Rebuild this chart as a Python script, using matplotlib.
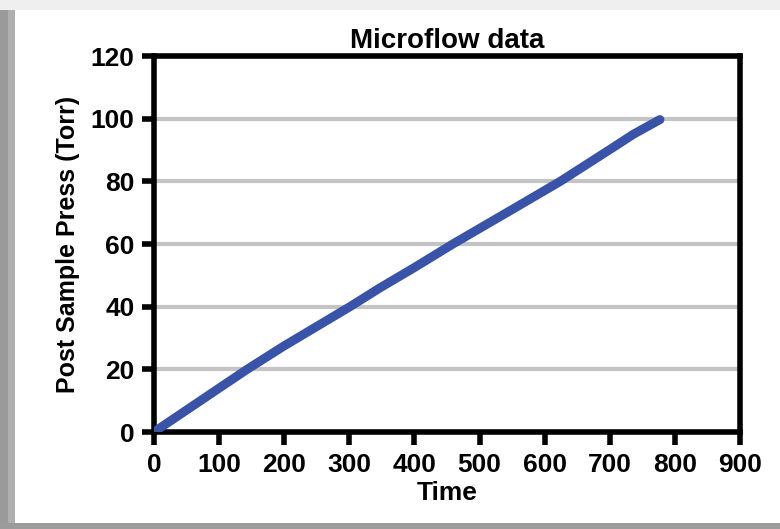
import numpy as np
import matplotlib
matplotlib.use("Agg")
import matplotlib.pyplot as plt
from matplotlib.patches import Rectangle

# values
time = [0, 20, 50, 100, 143, 200, 301, 347, 400, 459, 550, 624, 705, 736, 777]
press = [0, 2.8, 7, 14, 20, 27.5, 40, 46, 52.5, 60, 71, 80, 90.8, 95, 99.7]
xticks = [0, 100, 200, 300, 400, 500, 600, 700, 800, 900]
yticks = [0, 20, 40, 60, 80, 100, 120]
grid_levels = [20, 40, 60, 80, 100]

plt.rcParams["font.family"] = ["Liberation Sans", "DejaVu Sans"]
plt.rcParams["font.weight"] = "bold"

W, H = 780, 529
fig = plt.figure(figsize=(W / 100, H / 100), dpi=100)
fig.patch.set_facecolor("#efefef")


def px_rect(x0, y0, x1, y1, color):
    # rectangle in pixel coords, y measured from top
    fig.patches.append(Rectangle((x0 / W, 1 - y1 / H), (x1 - x0) / W, (y1 - y0) / H,
                                 transform=fig.transFigure, color=color, zorder=-10,
                                 linewidth=0))


# screenshot frame
px_rect(15, 10, W, 523, "white")
px_rect(0, 10, 8, 523, "#9a9a9a")
px_rect(8, 10, 15, 523, "#b0b0b0")
px_rect(0, 523, W, H, "#9c9c9c")

ax = fig.add_axes([154 / W, 1 - 432 / H, 586 / W, 376 / H])
ax.set_facecolor("white")

for g in grid_levels:
    ax.axhline(g, color="#c4c4c4", linewidth=3, zorder=1)

ax.plot(time, press, color="#3853a8", linewidth=6.5, solid_capstyle="round",
        solid_joinstyle="round", zorder=3)

ax.set_xlim(0, 900)
ax.set_ylim(0, 120)
ax.set_xticks(xticks)
ax.set_yticks(yticks)

for s in ax.spines.values():
    s.set_linewidth(4)
    s.set_color("black")
    s.set_capstyle("projecting")

ax.tick_params(axis="both", direction="out", length=9, width=4, labelsize=19,
               colors="black")
ax.tick_params(axis="x", pad=6)
ax.tick_params(axis="y", pad=5)
for lbl in ax.get_xticklabels() + ax.get_yticklabels():
    lbl.set_fontweight("bold")

ax.set_title("Microflow data", fontsize=20, fontweight="bold", pad=6)
ax.set_xlabel("Time", fontsize=19, fontweight="bold", labelpad=3)
ax.set_ylabel("Post Sample Press (Torr)", fontsize=18, fontweight="bold", labelpad=8)

fig.savefig("out.png", dpi=100)
